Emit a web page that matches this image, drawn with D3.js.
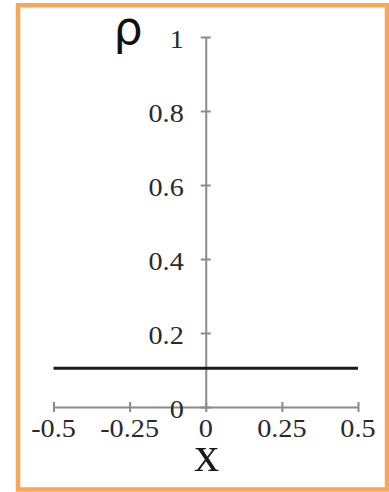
<!DOCTYPE html>
<html>
<head>
<meta charset="utf-8">
<script src="https://cdn.jsdelivr.net/npm/d3@7"></script>
<style>
  html, body { margin: 0; padding: 0; background: #fff; }
  svg { display: block; }
</style>
</head>
<body>
<svg id="chart" width="389" height="492"></svg>
<script>
// ---- data ----
const xTicks = [-0.5, -0.25, 0, 0.25, 0.5];
const xTickLabels = ["-0.5", "-0.25", "0", "0.25", "0.5"];
const yTicks = [0, 0.2, 0.4, 0.6, 0.8, 1];
const yTickLabels = ["0", "0.2", "0.4", "0.6", "0.8", "1"];
const lineX = [-0.5, 0.5];
const lineY = [0.105, 0.105];
const xLabel = "x";
const yLabel = "ρ";

const svg = d3.select("#chart");

// border
svg.append("rect")
  .attr("x", 18).attr("y", 5.3).attr("width", 369).attr("height", 484.2)
  .attr("fill", "#fff").attr("stroke", "#F8A659").attr("stroke-width", 4.5);

const x = d3.scaleLinear().domain([-0.5, 0.5]).range([53.5, 358]);
const y = d3.scaleLinear().domain([0, 1]).range([407, 37]);
const axisColor = "#8a8a8a";
const fontSerif = "'Liberation Serif', 'Times New Roman', serif";
const stretch = 1.13;

// x axis
const gx = svg.append("g").attr("transform", `translate(0,${y(0)})`)
  .call(d3.axisBottom(x).tickValues(xTicks).tickSizeOuter(0).tickSizeInner(5).tickFormat(""));
gx.select(".domain").attr("stroke", axisColor).attr("stroke-width", 2);
gx.selectAll(".tick line").attr("stroke", axisColor).attr("stroke-width", 2).attr("y1", -5).attr("y2", 5);

// y axis (at x = 0)
const gy = svg.append("g").attr("transform", `translate(${x(0)},0)`)
  .call(d3.axisLeft(y).tickValues(yTicks).tickSizeOuter(0).tickSizeInner(5).tickFormat(""));
gy.select(".domain").attr("stroke", axisColor).attr("stroke-width", 2);
gy.selectAll(".tick line").attr("stroke", axisColor).attr("stroke-width", 2).attr("x1", -5).attr("x2", 5);

// x tick labels
svg.append("g").selectAll("text").data(xTicks).join("text")
  .attr("transform", d => `translate(${x(d)},437) scale(${stretch},1)`)
  .attr("text-anchor", "middle")
  .attr("font-family", fontSerif).attr("font-size", 25).attr("fill", "#2a2a2a")
  .text((d, i) => xTickLabels[i]);

// y tick labels
svg.append("g").selectAll("text").data(yTicks).join("text")
  .attr("transform", d => `translate(${x(0) - 22},${y(d) + 10.5}) scale(${stretch},1)`)
  .attr("text-anchor", "end")
  .attr("font-family", fontSerif).attr("font-size", 25).attr("fill", "#2a2a2a")
  .text((d, i) => yTickLabels[i]);

// data line
const line = d3.line().x(d => x(d[0])).y(d => y(d[1]));
svg.append("path")
  .datum(lineX.map((v, i) => [v, lineY[i]]))
  .attr("d", line).attr("fill", "none").attr("stroke", "#1a1a1a").attr("stroke-width", 3);

// axis titles
svg.append("text")
  .attr("x", x(0) + 1).attr("y", 471)
  .attr("text-anchor", "middle")
  .attr("font-family", fontSerif).attr("font-size", 50).attr("fill", "#1a1a1a")
  .text(xLabel);

svg.append("text")
  .attr("x", 128).attr("y", 44)
  .attr("text-anchor", "middle")
  .attr("font-family", "'DejaVu Sans', sans-serif").attr("font-size", 46).attr("fill", "#111")
  .text(yLabel);
</script>
</body>
</html>
